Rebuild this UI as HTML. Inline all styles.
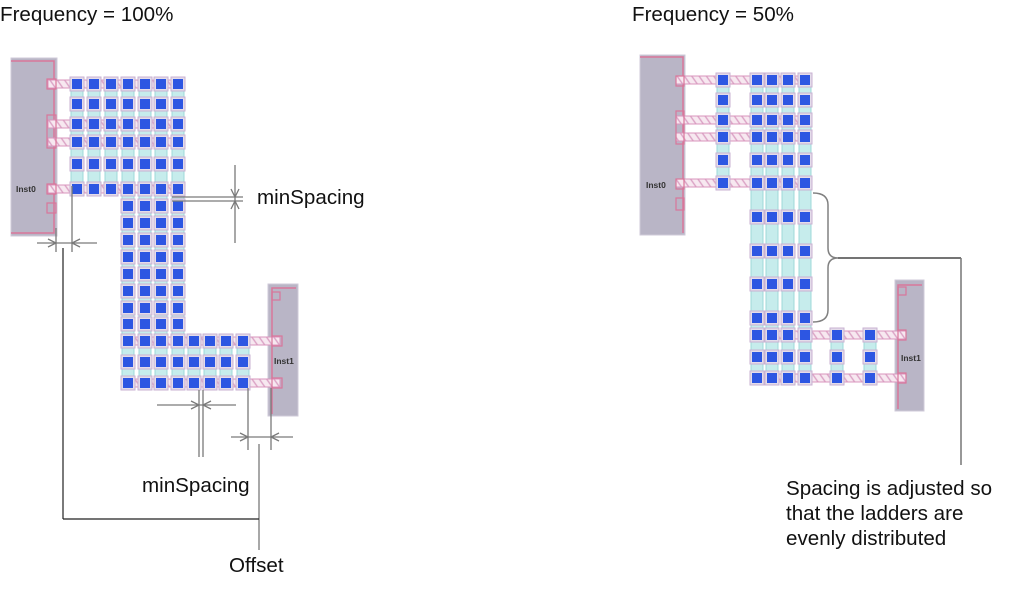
<!DOCTYPE html>
<html><head><meta charset="utf-8"><style>
html,body{margin:0;padding:0;background:#fff;}
svg{display:block;}
.t{font-family:"Liberation Sans",Arial,sans-serif;font-size:20.6px;fill:#111;}
.lb{font-family:"Liberation Sans",Arial,sans-serif;font-size:8.5px;font-weight:bold;fill:#333;}
</style></head><body>
<svg width="1013" height="602" viewBox="0 0 1013 602" xmlns="http://www.w3.org/2000/svg">
<defs>
<pattern id="h" width="6" height="6" patternUnits="userSpaceOnUse" patternTransform="rotate(-35)">
<rect width="6" height="6" fill="#f7e8f0"/><line x1="1" y1="0" x2="1" y2="6" stroke="#dba2c5" stroke-width="1.4"/></pattern>
<g id="v"><rect x="-7" y="-7" width="14" height="14" fill="#e4dcea" stroke="#c8b2d2" stroke-width="1"/><rect x="-5" y="-5" width="10" height="10" fill="#2d56e2"/></g>
<g id="LT"><use href="#v" x="77"/><use href="#v" x="94"/><use href="#v" x="111"/><use href="#v" x="128"/><use href="#v" x="145"/><use href="#v" x="161"/><use href="#v" x="178"/></g>
<g id="LM"><use href="#v" x="128"/><use href="#v" x="145"/><use href="#v" x="161"/><use href="#v" x="178"/></g>
<g id="LB"><use href="#v" x="128"/><use href="#v" x="145"/><use href="#v" x="161"/><use href="#v" x="178"/><use href="#v" x="194"/><use href="#v" x="210"/><use href="#v" x="226"/><use href="#v" x="243"/></g>
<g id="RT"><use href="#v" x="723"/><use href="#v" x="757"/><use href="#v" x="772"/><use href="#v" x="788"/><use href="#v" x="805"/></g>
<g id="RM"><use href="#v" x="757"/><use href="#v" x="772"/><use href="#v" x="788"/><use href="#v" x="805"/></g>
<g id="RX"><use href="#v" x="837"/><use href="#v" x="870"/></g>
</defs>

<!-- Titles -->
<text class="t" x="0" y="21">Frequency = 100%</text>
<text class="t" x="632" y="21">Frequency = 50%</text>

<!-- ================= LEFT ================= -->
<rect x="11" y="58" width="46" height="178" fill="#b9b5c6" stroke="#cfcad8"/>
<polyline points="11,61 54,61 54,233 11,233" fill="none" stroke="#d9769a" stroke-width="1.5"/>
<rect x="268" y="284" width="30" height="132" fill="#b9b5c6" stroke="#cfcad8"/>
<polyline points="296,288 272,288 272,414" fill="none" stroke="#d9769a" stroke-width="1.5"/>

<g fill="#c6ecec" stroke="#9fd9d9" stroke-width="1">
<rect x="71" y="84" width="12" height="105"/><rect x="88" y="84" width="12" height="105"/><rect x="105" y="84" width="12" height="105"/>
<rect x="122" y="84" width="12" height="299"/><rect x="139" y="84" width="12" height="299"/><rect x="155" y="84" width="12" height="299"/><rect x="172" y="84" width="12" height="299"/>
<rect x="188" y="341" width="12" height="42"/><rect x="204" y="341" width="12" height="42"/><rect x="220" y="341" width="12" height="42"/><rect x="237" y="341" width="12" height="42"/>
</g>
<g fill="url(#h)" stroke="#d995bd" stroke-width="1">
<rect x="48" y="80" width="136" height="8"/><rect x="48" y="120" width="136" height="8"/><rect x="48" y="138" width="136" height="8"/><rect x="48" y="185" width="136" height="8"/>
<rect x="122" y="337" width="158" height="8"/><rect x="122" y="379" width="158" height="8"/>
</g>
<use href="#LT" y="84"/><use href="#LT" y="104"/><use href="#LT" y="124"/><use href="#LT" y="142"/><use href="#LT" y="164"/><use href="#LT" y="189"/>
<use href="#LM" y="206"/><use href="#LM" y="223"/><use href="#LM" y="240"/><use href="#LM" y="257"/><use href="#LM" y="274"/><use href="#LM" y="291"/><use href="#LM" y="308"/><use href="#LM" y="324"/>
<use href="#LB" y="341"/><use href="#LB" y="362"/><use href="#LB" y="383"/>
<g fill="none" stroke="#d9769a" stroke-width="1.2">
<rect x="47" y="79" width="9" height="10"/><rect x="47" y="115" width="9" height="33"/><rect x="47" y="184" width="9" height="10"/><rect x="47" y="203" width="9" height="10"/>
<rect x="272" y="292" width="8" height="8"/><rect x="272" y="336" width="10" height="10"/><rect x="272" y="378" width="10" height="10"/>
</g>
<text class="lb" x="16" y="192">Inst0</text>
<text class="lb" x="274" y="364">Inst1</text>

<g stroke="#7a7a7a" stroke-width="1.3" fill="none">
<line x1="235" y1="165" x2="235" y2="243"/>
<line x1="172" y1="197" x2="243" y2="197"/><line x1="172" y1="201" x2="243" y2="201"/>
<polyline points="231,189 235,197 239,189"/><polyline points="231,209 235,201 239,209"/>
<line x1="56" y1="228" x2="56" y2="252"/><line x1="72" y1="186" x2="72" y2="252"/>
<line x1="37" y1="243" x2="97" y2="243"/>
<polyline points="48,239 56,243 48,247"/><polyline points="80,239 72,243 80,247"/>
<line x1="199" y1="390" x2="199" y2="457"/><line x1="203" y1="390" x2="203" y2="457"/>
<line x1="157" y1="405" x2="236" y2="405"/>
<polyline points="191,401 199,405 191,409"/><polyline points="211,401 203,405 211,409"/>
<line x1="248" y1="388" x2="248" y2="450"/><line x1="271" y1="388" x2="271" y2="450"/>
<line x1="231" y1="437" x2="293" y2="437"/>
<polyline points="240,433 248,437 240,441"/><polyline points="279,433 271,437 279,441"/>
<line x1="259" y1="444" x2="259" y2="550"/>
</g>
<g stroke="#222" stroke-width="1.2" fill="none">
<line x1="63" y1="248" x2="63" y2="519"/>
<line x1="63" y1="519" x2="259" y2="519"/>
</g>
<text class="t" x="257" y="204">minSpacing</text>
<text class="t" x="142" y="492">minSpacing</text>
<text class="t" x="229" y="572">Offset</text>

<!-- ================= RIGHT ================= -->
<rect x="640" y="55" width="45" height="180" fill="#b9b5c6" stroke="#cfcad8"/>
<polyline points="640,57 683,57 683,233" fill="none" stroke="#d9769a" stroke-width="1.5"/>
<rect x="895" y="280" width="29" height="131" fill="#b9b5c6" stroke="#cfcad8"/>
<polyline points="922,285 898,285 898,409" fill="none" stroke="#d9769a" stroke-width="1.5"/>

<g fill="#c6ecec" stroke="#9fd9d9" stroke-width="1">
<rect x="717" y="80" width="12" height="103"/>
<rect x="751" y="80" width="12" height="298"/><rect x="766" y="80" width="12" height="298"/><rect x="782" y="80" width="12" height="298"/><rect x="799" y="80" width="12" height="298"/>
<rect x="831" y="335" width="12" height="43"/><rect x="864" y="335" width="12" height="43"/>
</g>
<g fill="url(#h)" stroke="#d995bd" stroke-width="1">
<rect x="676" y="76" width="135" height="8"/><rect x="676" y="116" width="135" height="8"/><rect x="676" y="133" width="135" height="8"/><rect x="676" y="179" width="135" height="8"/>
<rect x="750" y="331" width="156" height="8"/><rect x="750" y="374" width="156" height="8"/>
</g>
<use href="#RT" y="80"/><use href="#RT" y="100"/><use href="#RT" y="120"/><use href="#RT" y="137"/><use href="#RT" y="160"/><use href="#RT" y="183"/>
<use href="#RM" y="217"/><use href="#RM" y="251"/><use href="#RM" y="284"/><use href="#RM" y="318"/><use href="#RM" y="335"/><use href="#RM" y="357"/><use href="#RM" y="378"/>
<use href="#RX" y="335"/><use href="#RX" y="357"/><use href="#RX" y="378"/>
<g fill="none" stroke="#d9769a" stroke-width="1.2">
<rect x="676" y="76" width="8" height="10"/><rect x="676" y="111" width="8" height="33"/><rect x="676" y="179" width="8" height="10"/><rect x="676" y="198" width="8" height="12"/>
<rect x="898" y="287" width="8" height="8"/><rect x="898" y="330" width="8" height="10"/><rect x="898" y="373" width="8" height="10"/>
</g>
<text class="lb" x="646" y="188">Inst0</text>
<text class="lb" x="901" y="361">Inst1</text>

<path d="M813,193 Q828,193 828,205 L828,248 Q828,258 838,258 Q828,258 828,268 L828,310 Q828,322 813,322" fill="none" stroke="#808080" stroke-width="1.5"/>
<line x1="838" y1="258" x2="961" y2="258" stroke="#222" stroke-width="1.2"/>
<line x1="961" y1="258" x2="961" y2="465" stroke="#777" stroke-width="1.5"/>

<text class="t" x="786" y="495">Spacing is adjusted so</text>
<text class="t" x="786" y="520">that the ladders are</text>
<text class="t" x="786" y="545">evenly distributed</text>
</svg>
</body></html>
